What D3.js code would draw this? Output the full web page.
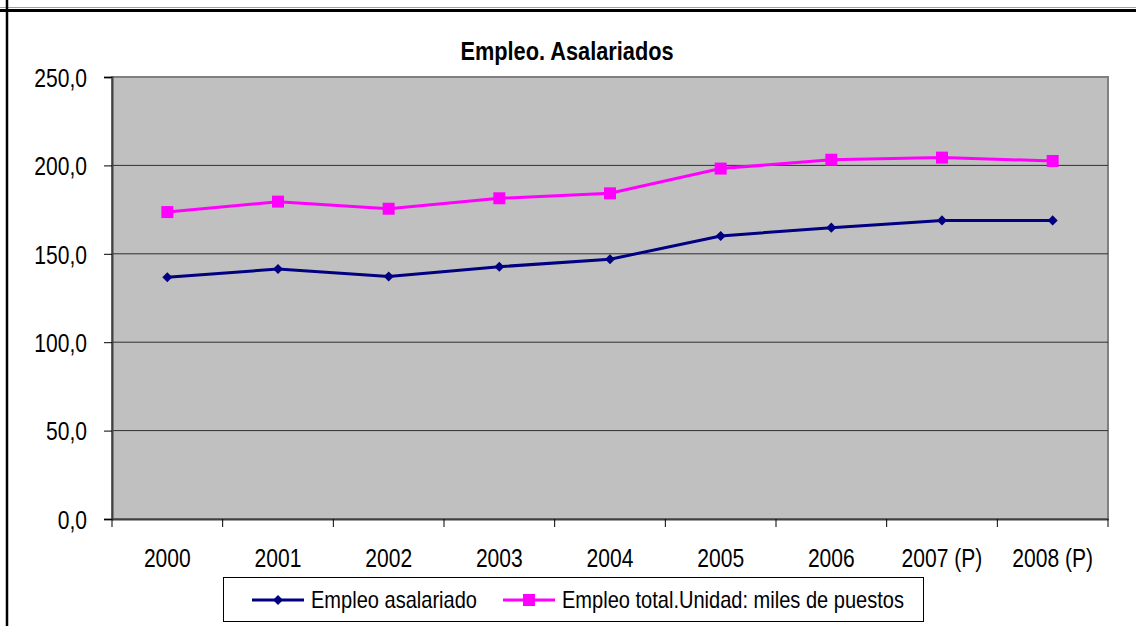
<!DOCTYPE html>
<html>
<head>
    <meta charset="utf-8">
    <title>Empleo. Asalariados</title>
    <script type="text/javascript" src="https://d3js.org/d3.v7.min.js"></script>
    <style>
      body { margin: 0; background: #fff; }
      text { font-family: "Liberation Sans Narrow", "Arial Narrow", "Liberation Sans", sans-serif; fill: #000; }
    </style>
</head>
<body>
<script type="text/javascript">

    var years = ["2000", "2001", "2002", "2003", "2004", "2005", "2006", "2007 (P)", "2008 (P)"]
    var asalariado = [136.7, 141.4, 137.1, 142.7, 146.9, 160.1, 164.8, 168.9, 168.9]
    var total = [173.6, 179.5, 175.5, 181.4, 184.2, 198.2, 203.2, 204.4, 202.5]
    var yTicks = [0, 50, 100, 150, 200, 250]
    var seriesNames = ["Empleo asalariado", "Empleo total.Unidad: miles de puestos"]

    var w = 1136
    var h = 626
    var svg = d3.select("body").append("svg").attr("width", w).attr("height", h)

    // narrow look: squeeze text horizontally
    function condense(sel, k) {
        sel.each(function(){
            var len = this.getComputedTextLength()
            d3.select(this).attr("textLength", len * k).attr("lengthAdjust", "spacingAndGlyphs")
        })
    }

    // outer frame bits
    svg.append("line").attr("x1", 0).attr("x2", w).attr("y1", 7.5).attr("y2", 7.5)
        .attr("stroke", "#a0a0a0").attr("stroke-width", 1)
    svg.append("line").attr("x1", 0).attr("x2", w).attr("y1", 10.5).attr("y2", 10.5)
        .attr("stroke", "#000").attr("stroke-width", 3)
    svg.append("line").attr("x1", 7).attr("x2", 7).attr("y1", 0).attr("y2", h)
        .attr("stroke", "#000").attr("stroke-width", 2.5)

    var pLeft = 112, pRight = 1108, pTop = 77, pBottom = 519

    var xScale = d3.scaleBand().domain(years).range([pLeft, pRight])
    var yScale = d3.scaleLinear().domain([0, 250]).range([pBottom, pTop])

    var es = d3.formatLocale({decimal: ",", thousands: ".", grouping: [3], currency: ["", "€"]})
    var fmt = es.format(".1f")

    svg.append("rect")
        .attr("x", pLeft).attr("y", pTop)
        .attr("width", pRight - pLeft).attr("height", pBottom - pTop)
        .attr("fill", "#c0c0c0")
        .attr("stroke", "#808080").attr("stroke-width", 2)

    // gridlines
    svg.selectAll(".grid")
        .data(yTicks.filter(function(d){ return d > 0 && d < 250 }))
        .enter()
        .append("line")
        .attr("x1", pLeft).attr("x2", pRight)
        .attr("y1", function(d){ return yScale(d) }).attr("y2", function(d){ return yScale(d) })
        .attr("stroke", "#303030").attr("stroke-width", 1)

    // y axis
    var yAxis = svg.append("g")
        .attr("transform", "translate(" + pLeft + ",0)")
        .call(d3.axisLeft(yScale).tickValues(yTicks).tickFormat(fmt).tickSizeOuter(0).tickSize(8).tickPadding(17))
    yAxis.select(".domain").attr("stroke", "#404040").attr("stroke-width", 2)
    yAxis.selectAll("line").attr("stroke", "#000")
    yAxis.selectAll("text").style("font-size", "26px").attr("fill", "#000").attr("dy", "0.36em")
    condense(yAxis.selectAll("text"), 0.81)

    // x axis
    var xAxis = svg.append("g")
        .attr("transform", "translate(0," + pBottom + ")")
        .call(d3.axisBottom(xScale).tickSize(0).tickPadding(30))
    xAxis.select(".domain").attr("stroke", "#404040").attr("stroke-width", 2)
    xAxis.selectAll("text").style("font-size", "26px").attr("fill", "#000")
    condense(xAxis.selectAll("text"), 0.81)

    // x ticks at category boundaries
    var bounds = years.map(function(d){ return xScale(d) }).concat([pRight])
    svg.selectAll(".xtick")
        .data(bounds)
        .enter()
        .append("line")
        .attr("x1", function(d){ return d }).attr("x2", function(d){ return d })
        .attr("y1", pBottom).attr("y2", pBottom + 8)
        .attr("stroke", "#000").attr("stroke-width", 1)

    var cx = function(d, i){ return xScale(years[i]) + xScale.bandwidth() / 2 }

    var line = d3.line()
        .x(cx)
        .y(function(d){ return yScale(d) })

    svg.append("path")
        .datum(total)
        .attr("d", line)
        .attr("fill", "none")
        .attr("stroke", "#ff00ff")
        .attr("stroke-width", 3)

    svg.append("path")
        .datum(asalariado)
        .attr("d", line)
        .attr("fill", "none")
        .attr("stroke", "#000080")
        .attr("stroke-width", 3)

    var square = d3.symbol().type(d3.symbolSquare).size(144)
    var diamond = d3.symbol().type(d3.symbolDiamond2).size(64)

    svg.selectAll(".sq")
        .data(total)
        .enter()
        .append("path")
        .attr("d", square)
        .attr("transform", function(d, i){ return "translate(" + cx(d, i) + "," + yScale(d) + ")" })
        .attr("fill", "#ff00ff")

    svg.selectAll(".dm")
        .data(asalariado)
        .enter()
        .append("path")
        .attr("d", diamond)
        .attr("transform", function(d, i){ return "translate(" + cx(d, i) + "," + yScale(d) + ")" })
        .attr("fill", "#000080")

    // title
    var title = svg.append("text")
        .text("Empleo. Asalariados")
        .attr("x", 567).attr("y", 60)
        .attr("text-anchor", "middle")
        .style("font-size", "25px")
        .style("font-weight", "bold")
    condense(title, 0.87)

    // legend
    var lg = svg.append("g")
    lg.append("rect")
        .attr("x", 223.5).attr("y", 577.5).attr("width", 700).attr("height", 44)
        .attr("fill", "#fff").attr("stroke", "#000").attr("stroke-width", 1)

    var legendItems = [
        {name: seriesNames[0], color: "#000080", sym: diamond, x0: 252},
        {name: seriesNames[1], color: "#ff00ff", sym: square, x0: 503}
    ]
    legendItems.forEach(function(it){
        lg.append("line")
            .attr("x1", it.x0).attr("x2", it.x0 + 52)
            .attr("y1", 600).attr("y2", 600)
            .attr("stroke", it.color).attr("stroke-width", 3)
        lg.append("path")
            .attr("d", it.sym)
            .attr("transform", "translate(" + (it.x0 + 26) + ",600)")
            .attr("fill", it.color)
        var t = lg.append("text")
            .text(it.name)
            .attr("x", it.x0 + 59).attr("y", 608)
            .style("font-size", "24px")
        condense(t, 0.835)
    })

</script>
</body>
</html>
